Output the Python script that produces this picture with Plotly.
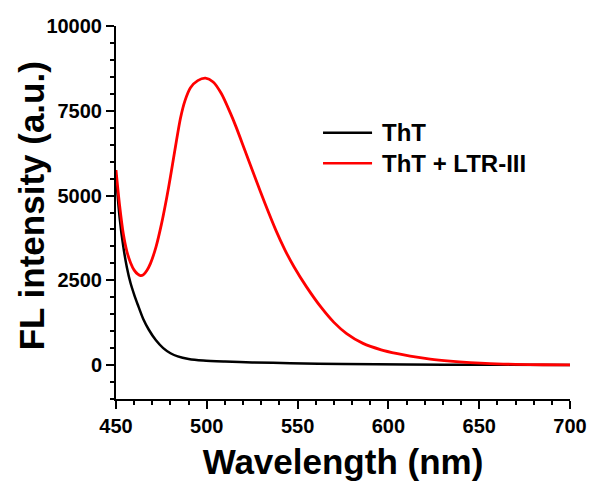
import plotly.graph_objects as go

# Fluorescence emission spectra (wavelength in nm, intensity in a.u.)
tht_wl = [450, 452, 454, 456, 458, 460, 462, 465, 468, 472, 476, 480,
          484, 490, 498, 510, 525, 546, 575, 610, 650, 700]
tht_fl = [5600, 4350, 3500, 2880, 2420, 2080, 1780, 1360, 1050, 730, 500, 350,
          255, 180, 135, 105, 80, 55, 32, 17, 9, 5]

ltr_wl = [450, 452, 454, 456, 458, 460, 462, 463.5, 465, 467, 469, 472, 475, 478,
          480, 482, 485.5, 488, 491, 495, 499.3, 503.5, 508, 513, 516,
          521, 527, 532, 538, 543, 548, 555, 563, 570, 577, 586, 596, 605, 612,
          623, 634, 645, 656, 670, 685, 700]
ltr_fl = [5750, 4700, 3880, 3350, 3020, 2800, 2680, 2640, 2660, 2790, 3000, 3480, 4150, 4960,
          5560, 6200, 7280, 7800, 8180, 8390, 8460, 8350, 8010, 7430, 7040,
          6330, 5470, 4770, 3980, 3400, 2900, 2300, 1700, 1260, 930, 640, 450, 335, 262,
          175, 115, 72, 42, 20, 10, 5]

series_names = ["ThT", "ThT + LTR-III"]
series_colors = ["#000000", "#ff0000"]

FONT = "Liberation Sans, Arial, sans-serif"

fig = go.Figure()
fig.add_trace(go.Scatter(x=tht_wl, y=tht_fl, mode="lines", name=series_names[0],
                         line=dict(color=series_colors[0], width=2.5,
                                   shape="spline", smoothing=0.8),
                         showlegend=False))
fig.add_trace(go.Scatter(x=ltr_wl, y=ltr_fl, mode="lines", name=series_names[1],
                         line=dict(color=series_colors[1], width=2.8,
                                   shape="spline", smoothing=0.8),
                         showlegend=False))

# Legend drawn as line samples plus labels in paper coordinates
legend_y = [0.714, 0.632]
for name, color, ly in zip(series_names, series_colors, legend_y):
    fig.add_shape(type="line", xref="paper", yref="paper",
                  x0=0.456, x1=0.564, y0=ly, y1=ly,
                  line=dict(color=color, width=2.5))
    fig.add_annotation(xref="paper", yref="paper", x=0.581, y=ly,
                       text="<b>%s</b>" % name, showarrow=False,
                       xanchor="left", yanchor="middle",
                       font=dict(family=FONT, size=24, color="black"))

# Vertical axis title
fig.add_annotation(xref="paper", yref="paper", x=-0.187, y=0.517,
                   text="<b>FL intensity (a.u.)</b>", showarrow=False,
                   textangle=-90, xanchor="center", yanchor="middle",
                   font=dict(family=FONT, size=35, color="black"))

axis_common = dict(
    showline=True, linecolor="black", linewidth=2,
    ticks="outside", ticklen=8, tickwidth=2, tickcolor="black",
    showgrid=False, zeroline=False, mirror=False, tickformat="d",
    automargin=False,
    tickfont=dict(family=FONT, size=20, color="black", weight="bold"),
)

fig.update_layout(
    width=592, height=481,
    margin=dict(l=116, r=22, t=26, b=82),
    paper_bgcolor="white", plot_bgcolor="white",
    xaxis=dict(range=[450, 700], tick0=450, dtick=50,
               minor=dict(dtick=10, ticks="outside", ticklen=4, tickwidth=2,
                          tickcolor="black"),
               title=dict(text="<b>Wavelength (nm)</b>", standoff=21,
                          font=dict(family=FONT, size=35, color="black")),
               **axis_common),
    yaxis=dict(range=[-1000, 10000], tick0=0, dtick=2500,
               minor=dict(dtick=500, tick0=0, ticks="outside", ticklen=4, tickwidth=2,
                          tickcolor="black"),
               **axis_common),
)

fig.write_html("out.html")
